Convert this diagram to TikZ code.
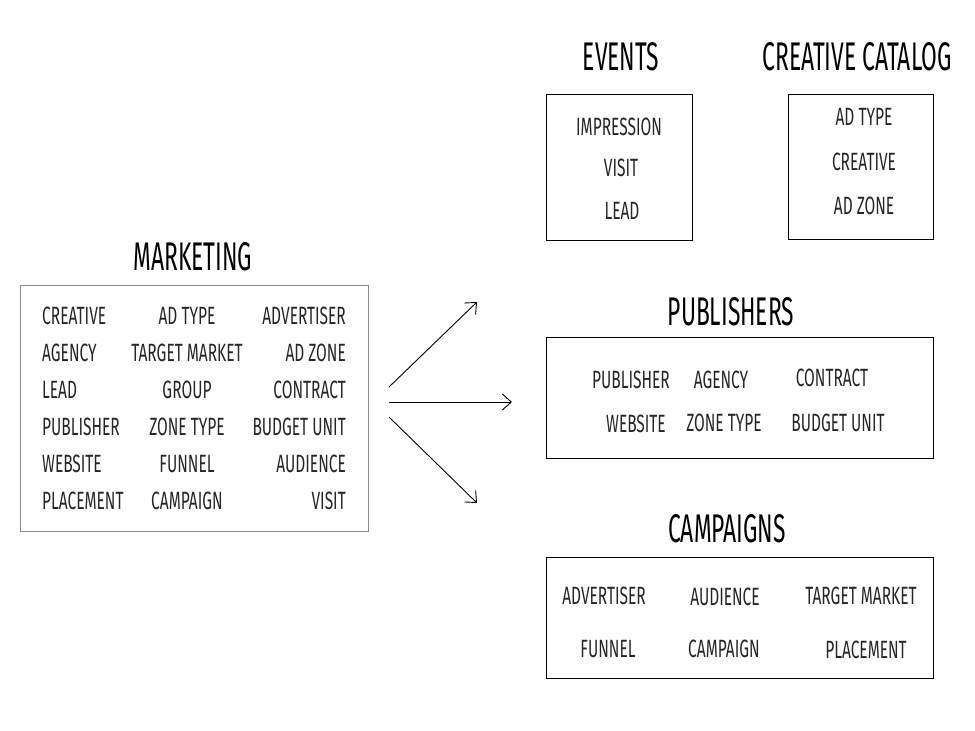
\documentclass[tikz,border=0pt]{standalone}
\usepackage{fontspec}
\newfontfamily\hand[FakeStretch=0.62]{Fira Sans}
\newfontfamily\handt[FakeStretch=0.57]{Fira Sans}
\usetikzlibrary{arrows.meta}
\begin{document}
\begin{tikzpicture}[x=1pt,y=-1pt,
  item/.style={inner sep=0pt,font=\hand\fontsize{25}{25}\selectfont,text=black!85},
  ttl/.style={inner sep=0pt,font=\handt\fontsize{40}{40}\selectfont,text=black},
  bx/.style={draw=black,line width=0.9pt},
  gbx/.style={draw=black!45,line width=1pt},
  arr/.style={line width=0.9pt,-{Straight Barb[length=9pt,width=16pt,line width=0.9pt]}}]
\useasboundingbox (0,0) rectangle (975,731);
% MARKETING
\node[ttl] (tm) at (193,257) {MARKETING};
\node[gbx,minimum width=348pt,minimum height=246pt,inner sep=0pt] (mk) at (194,408) {};
\foreach \t/\y [count=\i] in {CREATIVE/316,AGENCY/353,LEAD/390,PUBLISHER/427,WEBSITE/464,PLACEMENT/501}
  \node[item,anchor=west] (ma\i) at (42,\y) {\t};
\foreach \t/\y [count=\i] in {AD TYPE/316,TARGET MARKET/353,GROUP/390,ZONE TYPE/427,FUNNEL/464,CAMPAIGN/501}
  \node[item] (mb\i) at (187,\y) {\t};
\foreach \t/\y [count=\i] in {ADVERTISER/316,AD ZONE/353,CONTRACT/390,BUDGET UNIT/427,AUDIENCE/464,VISIT/501}
  \node[item,anchor=east] (mc\i) at (346,\y) {\t};
% arrows
\coordinate (s1) at (389,387); \coordinate (e1) at (477,302);
\coordinate (s2) at (389,402); \coordinate (e2) at (512,402);
\coordinate (s3) at (389,417); \coordinate (e3) at (477,503);
\draw[arr] (s1) -- (e1);
\draw[arr] (s2) -- (e2);
\draw[arr] (s3) -- (e3);
% EVENTS
\node[ttl] (te) at (621,57) {EVENTS};
\node[bx,minimum width=146pt,minimum height=146pt,inner sep=0pt] (ev) at (619,167) {};
\node[item] (e1n) at (619,127) {IMPRESSION};
\node[item] (e2n) at (621,168) {VISIT};
\node[item] (e3n) at (622,211) {LEAD};
% CREATIVE CATALOG
\node[ttl] (tc) at (857,57) {CREATIVE CATALOG};
\node[bx,minimum width=145pt,minimum height=145pt,inner sep=0pt] (cc) at (860.5,166.5) {};
\node[item] (c1n) at (864,117) {AD TYPE};
\node[item] (c2n) at (864,162) {CREATIVE};
\node[item] (c3n) at (864,206) {AD ZONE};
% PUBLISHERS
\node[ttl] (tp) at (731,312) {PUBLISHERS};
\node[bx,minimum width=387pt,minimum height=121pt,inner sep=0pt] (pb) at (739.5,397.5) {};
\node[item] (p1) at (631,380) {PUBLISHER};
\node[item] (p2) at (721,380) {AGENCY};
\node[item] (p3) at (832,378) {CONTRACT};
\node[item] (p4) at (636,424) {WEBSITE};
\node[item] (p5) at (724,423) {ZONE TYPE};
\node[item] (p6) at (838,423) {BUDGET UNIT};
% CAMPAIGNS
\node[ttl] (tca) at (727,529) {CAMPAIGNS};
\node[bx,minimum width=387pt,minimum height=121pt,inner sep=0pt] (cp) at (739.5,617.5) {};
\node[item] (q1) at (604,596) {ADVERTISER};
\node[item] (q2) at (725,597) {AUDIENCE};
\node[item] (q3) at (861,596) {TARGET MARKET};
\node[item] (q4) at (608,649) {FUNNEL};
\node[item] (q5) at (724,649) {CAMPAIGN};
\node[item] (q6) at (866,650) {PLACEMENT};
\end{tikzpicture}
\end{document}
